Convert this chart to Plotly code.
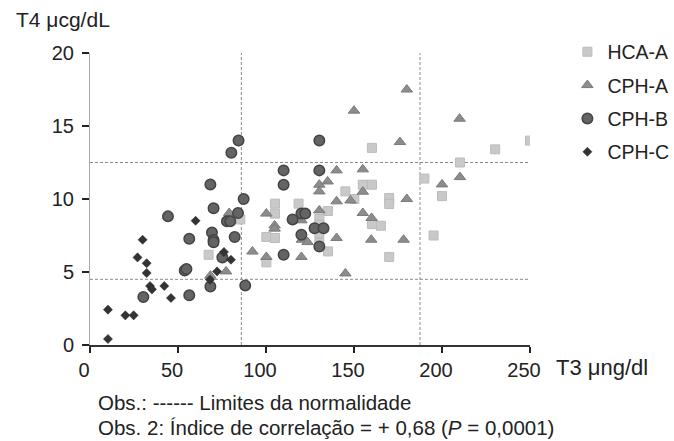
import plotly.graph_objects as go

# ---- data (T3 in ng/dl, T4 in mcg/dL) ----
hca_a_t3 = [67.4, 85.4, 100.2, 100.2, 105.1, 105.1, 105.1, 118.5, 130.3, 130.3, 130.3, 130.3,
            135.2, 135.2, 145.1, 150.2, 155.0, 160.2, 160.2, 160.2, 165.3, 170.0, 170.0, 170.0,
            190.0, 195.2, 200.0, 210.2, 230.2, 250.0]
hca_a_t4 = [6.18, 8.6, 7.4, 5.66, 9.68, 9.0, 7.33, 9.68, 8.63, 8.24, 7.67, 6.99,
            9.18, 6.41, 10.52, 10.0, 10.98, 10.98, 13.5, 8.29, 8.17, 10.07, 9.66, 6.03,
            11.4, 7.5, 10.2, 12.5, 13.4, 14.0]

cph_a_t3 = [68.4, 77.3, 79.1, 92.3, 100.2, 100.2, 104.9, 104.9, 120.1, 120.4, 123.6, 120.1,
            130.3, 130.3, 130.3, 135.0, 140.1, 140.1, 140.1, 145.1, 148.0, 150.0, 155.0, 155.0,
            155.0, 160.0, 159.8, 176.1, 178.2, 180.0, 180.0, 200.0, 210.2, 210.0]
cph_a_t4 = [4.75, 5.04, 9.04, 6.4, 9.0, 6.03, 8.19, 7.97, 8.54, 7.21, 7.05, 6.03,
            10.98, 10.52, 9.22, 11.2, 11.96, 9.84, 7.33, 4.9, 9.9, 16.05, 12.03, 10.5,
            9.04, 8.7, 7.21, 13.9, 7.21, 10.0, 17.5, 11.0, 11.5, 15.5]

cph_b_t3 = [30.3, 44.3, 53.8, 54.8, 56.4, 56.4, 68.4, 68.4, 69.3, 70.2, 70.2, 70.2, 75.2,
            77.8, 79.7, 80.3, 82.2, 84.1, 84.4, 87.3, 88.2, 110.0, 110.0, 110.0, 115.1,
            120.1, 122.3, 120.1, 127.6, 132.7, 130.3, 130.3, 130.3]
cph_b_t4 = [3.29, 8.81, 5.1, 5.2, 7.28, 3.4, 11.0, 4.01, 7.7, 9.37, 7.2, 7.03, 6.0,
            8.47, 8.47, 13.17, 7.4, 9.04, 14.0, 10.0, 4.08, 11.96, 10.98, 6.18, 8.6,
            9.0, 9.0, 7.55, 8.0, 8.0, 6.75, 11.96, 14.0]

cph_c_t3 = [10.2, 10.2, 20.1, 24.8, 27.0, 29.9, 32.2, 32.2, 34.1, 35.2, 42.2, 46.0,
            60.0, 68.2, 72.2, 76.1, 80.1]
cph_c_t4 = [2.42, 0.41, 2.03, 2.03, 6.0, 7.21, 5.6, 4.93, 4.04, 3.81, 4.04, 3.22,
            8.51, 4.47, 5.04, 6.37, 5.84]

# normality limits
t3_limits = [86.0, 187.5]
t4_limits = [4.5, 12.5]

x_ticks = [0, 50, 100, 150, 200, 250]
y_ticks = [0, 5, 10, 15, 20]

FONT = "Liberation Sans, Arial, sans-serif"
TXT = "#222222"

fig = go.Figure()

fig.add_trace(go.Scatter(x=hca_a_t3, y=hca_a_t4, mode="markers", name="HCA-A",
                         legendgroup="a",
                         marker=dict(symbol="square", size=9, color="#c9c9c9",
                                     line=dict(color="#bcbcbc", width=1))))
fig.add_trace(go.Scatter(x=cph_a_t3, y=cph_a_t4, mode="markers", name="CPH-A",
                         legendgroup="b",
                         marker=dict(symbol="triangle-up", size=10, color="#8c8c8c",
                                     line=dict(color="#7a7a7a", width=1))))
fig.add_trace(go.Scatter(x=cph_b_t3, y=cph_b_t4, mode="markers", name="CPH-B",
                         legendgroup="c",
                         marker=dict(symbol="circle", size=10.5, color="#646464",
                                     line=dict(color="#444444", width=1.5))))
fig.add_trace(go.Scatter(x=cph_c_t3, y=cph_c_t4, mode="markers", name="CPH-C",
                         legendgroup="d",
                         marker=dict(symbol="diamond", size=7, color="#333333",
                                     line=dict(color="#222222", width=0.5))))

for v in t3_limits:
    fig.add_shape(type="line", xref="x", yref="y", x0=v, x1=v, y0=y_ticks[0], y1=y_ticks[-1],
                  line=dict(color="#8a8a8a", width=1, dash="3px,2px"), layer="below")
for v in t4_limits:
    fig.add_shape(type="line", xref="x", yref="y", x0=x_ticks[0], x1=x_ticks[-1], y0=v, y1=v,
                  line=dict(color="#8a8a8a", width=1, dash="3px,2px"), layer="below")

fig.update_layout(
    width=674, height=441,
    margin=dict(l=90, r=144, t=53, b=96, autoexpand=False),
    paper_bgcolor="white", plot_bgcolor="white",
    font=dict(family=FONT, size=20, color=TXT),
    showlegend=True,
    legend=dict(x=1.085, y=1.07, xanchor="left", yanchor="top",
                font=dict(size=19.5, color=TXT), tracegroupgap=5,
                itemsizing="trace", bgcolor="rgba(0,0,0,0)"),
    xaxis=dict(range=[0, 250], tickvals=x_ticks, showgrid=False, zeroline=False,
               showline=True, linecolor="#333333", linewidth=1.5,
               ticks="outside", ticklen=6, tickcolor="#222222", tickwidth=1.5,
               ticklabelshift=-6,
               tickfont=dict(size=20, color=TXT), automargin=False),
    yaxis=dict(range=[0, 20], tickvals=y_ticks, showgrid=False, zeroline=False,
               showline=True, linecolor="#aaaaaa", linewidth=1,
               ticks="outside", ticklen=7, tickcolor="#222222", tickwidth=1.5,
               ticklabelstandoff=4,
               tickfont=dict(size=20, color=TXT), automargin=False),
    annotations=[
        dict(text="T4 μcg/dL", xref="paper", yref="paper", x=-0.172, y=1.114,
             xanchor="left", yanchor="middle", showarrow=False, font=dict(size=21, color=TXT)),
        dict(text="T3 μng/dl", xref="paper", yref="paper", x=1.055, y=-0.078,
             xanchor="left", yanchor="middle", showarrow=False, font=dict(size=22, color=TXT)),
        dict(text="Obs.: ------ Limites da normalidade", xref="paper", yref="paper",
             x=0.0136, y=-0.198, xanchor="left", yanchor="middle", showarrow=False,
             font=dict(size=20.5, color=TXT)),
        dict(text="Obs. 2: Índice de correlação = + 0,68 (<i>P</i> = 0,0001)", xref="paper",
             yref="paper", x=0.0136, y=-0.283, xanchor="left", yanchor="middle", showarrow=False,
             font=dict(size=20.5, color=TXT)),
    ],
)

fig.write_html("out.html")
